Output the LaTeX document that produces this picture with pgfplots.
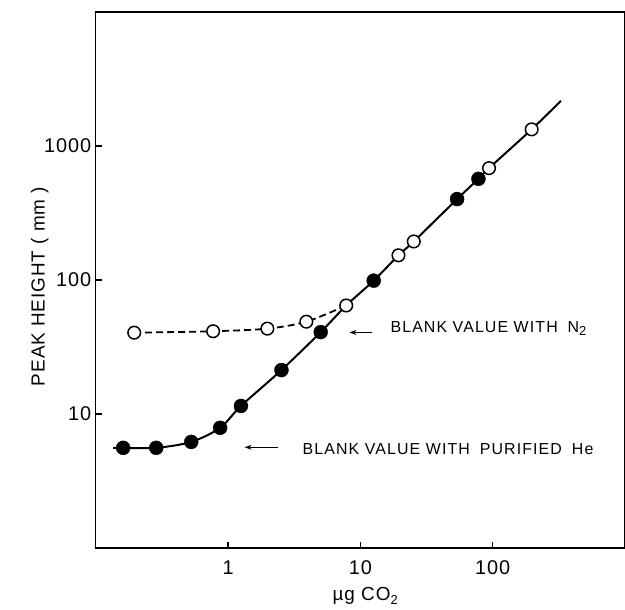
\documentclass[border=0pt]{standalone}
\usepackage{fontspec}
\setmainfont{Liberation Sans}[LetterSpace=5]
\newfontfamily\annfont{Liberation Sans}[LetterSpace=7]
\usepackage{pgfplots}
\pgfplotsset{compat=1.18}
\usetikzlibrary{arrows.meta}

% blank with purified He (filled circles)
\pgfplotstableread{
x y
0.161 5.6
0.286 5.6
0.526 6.2
0.87 7.9
1.25 11.5
2.53 21.3
5.01 40.9
12.6 99
53.8 402
78 569
}\hetable

% blank with N2 (open circles)
\pgfplotstableread{
x y
0.195 40.5
0.77 41.5
1.98 43.4
3.90 48.9
7.81 64.6
19.4 153
25.3 194
93.8 684
197 1331
}\ntable

\newcommand{\sub}[1]{\raisebox{-0.4ex}{\fontsize{13}{13}\selectfont #1}}

\begin{document}
\begin{tikzpicture}
\useasboundingbox (-96bp,-61bp) rectangle (530bp,549bp);
\begin{axis}[
    scale only axis,
    width=530bp, height=537bp,
    xmode=log, ymode=log,
    xmin=0.1, xmax=1000, ymin=1, ymax=10000,
    xtick={1,10,100}, xticklabels={1,10,100},
    ytick={10,100,1000}, yticklabels={10,100,1000},
    minor tick length=0pt,
    tick pos=left, tick align=inside,
    major tick length=6bp,
    axis line style={line width=1.3bp},
    every tick/.style={line width=1.3bp, black},
    tick label style={font=\fontsize{20}{20}\selectfont},
    xticklabel style={yshift=-9bp},
    yticklabel style={xshift=-1bp},
    xlabel={\fontsize{19}{19}\selectfont µg CO\sub{2}},
    ylabel={\fontsize{19}{19}\selectfont PEAK HEIGHT ( mm )},
    xlabel style={at={(axis description cs:0.509,-0.089)}, anchor=center},
    ylabel style={at={(axis description cs:-0.106,0.488)}, anchor=center},
    ]
% solid curve
\addplot[black, line width=2bp, smooth] coordinates {
  (0.135,5.6) (0.161,5.6) (0.286,5.6) (0.526,6.2) (0.87,7.9) (1.25,11.5)
  (2.53,21.3) (5.01,40.9) (7.81,64.6) (12.6,99) (19.4,153) (25.3,194)
  (53.8,402) (78,569) (93.8,684) (197,1331) (328,2173)
};
% dashed curve for N2 blank
\addplot[black, line width=1.8bp, dash pattern=on 7bp off 4bp, smooth] coordinates {
  (0.195,40.5) (0.77,41.5) (1.98,43.4) (3.90,48.9) (7.81,64.6)
};
\addplot[only marks, mark=*, mark size=7bp, mark options={fill=black, draw=black}]
  table[x=x, y=y] {\hetable};
\addplot[only marks, mark=*, mark size=6.3bp, mark options={fill=white, draw=black, line width=1.5bp}]
  table[x=x, y=y] {\ntable};
\end{axis}
\node[anchor=base west, inner sep=0pt, font=\annfont\fontsize{16}{16}\selectfont]
  at (295bp,216bp) {BLANK VALUE WITH\hspace{10bp}N\sub{2}};
\draw[-{Stealth[length=7bp,width=5bp]}, line width=1.2bp] (277bp,216bp) -- (254bp,216bp);
\node[anchor=base west, inner sep=0pt, font=\annfont\fontsize{16}{16}\selectfont]
  at (207bp,94bp) {BLANK VALUE WITH\hspace{10bp}PURIFIED\hspace{10bp}He};
\draw[-{Stealth[length=7bp,width=5bp]}, line width=1.2bp] (182bp,101bp) -- (149bp,101bp);
\end{tikzpicture}
\end{document}
